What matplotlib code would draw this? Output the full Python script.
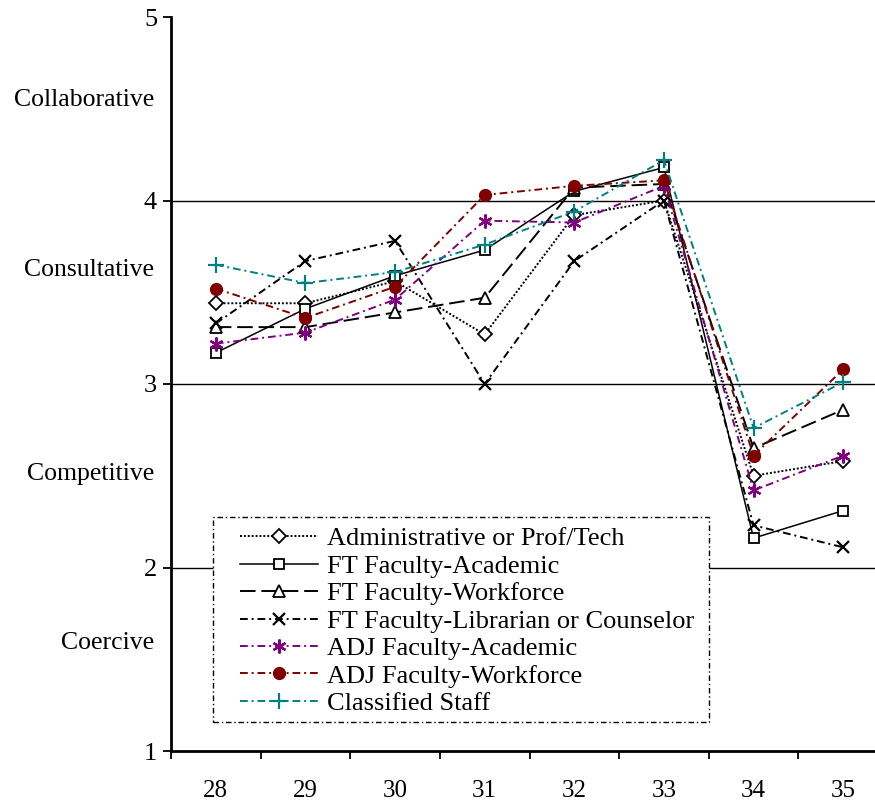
import numpy as np
import matplotlib.pyplot as plt
from matplotlib.patches import Rectangle

plt.rcParams['font.family'] = ['Liberation Serif', 'DejaVu Serif']

# --- data ---
items = ['28', '29', '30', '31', '32', '33', '34', '35']
admin = [3.44, 3.44, 3.56, 3.27, 3.92, 4.00, 2.50, 2.58]
ft_academic = [3.17, 3.41, 3.59, 3.73, 4.05, 4.18, 2.16, 2.31]
ft_workforce = [3.31, 3.31, 3.39, 3.47, 4.07, 4.09, 2.65, 2.86]
ft_librarian = [3.33, 3.67, 3.78, 3.00, 3.67, 4.00, 2.23, 2.11]
adj_academic = [3.22, 3.28, 3.46, 3.89, 3.88, 4.08, 2.42, 2.61]
adj_workforce = [3.52, 3.36, 3.53, 4.03, 4.08, 4.11, 2.61, 3.08]
classified = [3.65, 3.55, 3.61, 3.76, 3.94, 4.22, 2.76, 3.01]

styles = ['Coercive', 'Competitive', 'Consultative', 'Collaborative']
style_pos = [1.59, 2.51, 3.62, 4.55]

x = np.arange(len(items))
dashdot = (0, (4, 2, 1, 2))

fig = plt.figure(figsize=(8.75, 8.02), dpi=100)
ax = fig.add_axes([171 / 875, 51 / 802, 717 / 875, 734 / 802])

for y in [2, 3, 4]:
    ax.axhline(y, color='black', lw=1, zorder=1)

ax.plot(x, admin, color='black', lw=1.4, ls=(0, (1, 1)), marker='D', ms=7,
        mfc='white', mec='black', mew=1.3, label='Administrative or Prof/Tech', zorder=3)
ax.plot(x, ft_academic, color='black', lw=1.1, ls='-', marker='s', ms=7.5,
        mfc='white', mec='black', mew=1.3, label='FT Faculty-Academic', zorder=3)
ax.plot(x, ft_workforce, color='black', lw=1.4, ls=(0, (8, 3)), marker='^', ms=8.5,
        mfc='white', mec='black', mew=1.3, label='FT Faculty-Workforce', zorder=3)
ax.plot(x, ft_librarian, color='black', lw=1.4, ls=dashdot, marker='x', ms=9,
        mew=1.6, label='FT Faculty-Librarian or Counselor', zorder=3)
ax.plot(x, adj_academic, color='#800080', lw=1.4, ls=dashdot, marker=(6, 2, 0), ms=10,
        mew=1.6, label='ADJ Faculty-Academic', zorder=3)
ax.plot(x, adj_workforce, color='#800000', lw=1.4, ls=dashdot, marker='o', ms=8.5,
        mfc='#800000', mec='#800000', label='ADJ Faculty-Workforce', zorder=3)
ax.plot(x, classified, color='#008080', lw=1.4, ls=dashdot, marker='+', ms=11,
        mew=1.6, label='Classified Staff', zorder=3)

# axes
ax.set_xlim(-0.5, len(items) - 0.5)
ax.set_ylim(1, 5)
ax.spines['top'].set_visible(False)
ax.spines['right'].set_visible(False)
ax.spines['left'].set_linewidth(2)
ax.spines['bottom'].set_linewidth(2)

ax.set_yticks([1, 2, 3, 4, 5])
ax.set_yticklabels(['1', '2', '3', '4', '5'])
ax.tick_params(axis='y', which='major', length=6, width=1.3, pad=4, labelsize=19)

ax.set_xticks(np.arange(len(items) + 1) - 0.5)
ax.set_xticklabels([])
ax.set_xticks(x, minor=True)
ax.set_xticklabels(items, minor=True)
ax.tick_params(axis='x', which='major', length=6, width=1.3)
ax.tick_params(axis='x', which='minor', length=0, pad=21, labelsize=18)

for name, pos in zip(styles, style_pos):
    ax.annotate(name, xy=(0, pos), xycoords=ax.get_yaxis_transform(),
                xytext=(-12, 0), textcoords='offset points',
                ha='right', va='center', fontsize=18.5)

# legend box drawn separately so the padding can be set on each side
box = Rectangle((213 / 875, 1 - 722 / 802), 496 / 875, 205 / 802,
                transform=fig.transFigure, facecolor='white', edgecolor='black',
                lw=1.0, ls=dashdot, zorder=4, clip_on=False)
ax.add_patch(box)

leg = ax.legend(loc='upper left', bbox_to_anchor=(240 / 875, 1 - 527 / 802),
                bbox_transform=fig.transFigure, borderaxespad=0, borderpad=0,
                fontsize=19, handlelength=2.95, handletextpad=0.35,
                labelspacing=0.15, frameon=False)
leg.set_zorder(5)

fig.savefig('out.png', dpi=100)
